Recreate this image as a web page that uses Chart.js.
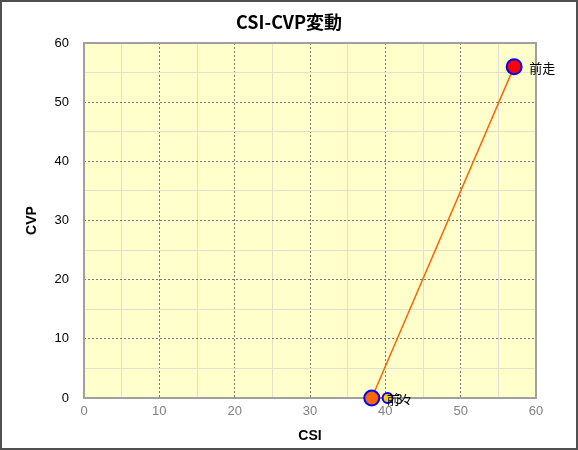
<!DOCTYPE html>
<html>
<head>
<meta charset="utf-8">
<script src="https://cdn.jsdelivr.net/npm/chart.js@4"></script>
<style>
  html, body { margin: 0; padding: 0; background: #fff; }
  #wrap { width: 578px; height: 450px; }
</style>
</head>
<body>
<div id="wrap"><canvas id="cvpChart" width="578" height="450"></canvas></div>
<script>
// data
const raceLabels = ['前走', '前々', '3'];
const csiValues = [57.1, 38.2, 40.3];
const cvpValues = [56, 0, 0];
const pointFills = ['#FF0000', '#FF6600', '#FFCC00'];
const pointSizes = [7.5, 7.5, 5];
const xTicks = [0, 10, 20, 30, 40, 50, 60];
const yTicks = [0, 10, 20, 30, 40, 50, 60];

const FONT = '"Liberation Sans", "Noto Sans CJK JP", sans-serif';

// plot background, frame, title, point labels, outer border
const decorPlugin = {
    id: 'decor',
    beforeDraw(chart) {
        const { ctx, chartArea: a } = chart;
        ctx.save();
        ctx.fillStyle = '#FFFFCC';
        ctx.fillRect(a.left, a.top, a.right - a.left, a.bottom - a.top);
        ctx.restore();
    },
    beforeDatasetsDraw(chart) {
        const { ctx, chartArea: a } = chart;
        ctx.save();
        ctx.strokeStyle = '#A0A0A0';
        ctx.lineWidth = 2;
        ctx.strokeRect(a.left, a.top, a.right - a.left, a.bottom - a.top);
        ctx.restore();
    },
    afterDatasetsDraw(chart) {
        const { ctx } = chart;
        const xs = chart.scales.x, ys = chart.scales.y;
        ctx.save();
        ctx.font = '13px "Noto Sans CJK JP", sans-serif';
        ctx.fillStyle = '#000';
        ctx.textBaseline = 'middle';
        ctx.textAlign = 'left';
        raceLabels.forEach((lbl, i) => {
            const px = xs.getPixelForValue(csiValues[i]);
            const py = ys.getPixelForValue(cvpValues[i]);
            ctx.fillText(lbl, px + (i === 2 ? 8 : 15), py + 1);
        });
        ctx.restore();
    },
    afterDraw(chart) {
        const { ctx, width, height } = chart;
        ctx.save();
        ctx.strokeStyle = '#505050';
        ctx.lineWidth = 2;
        ctx.strokeRect(1, 1, width - 2, height - 2);
        ctx.fillStyle = '#000';
        ctx.font = 'bold 18px "Noto Sans CJK JP", sans-serif';
        ctx.textAlign = 'center';
        ctx.textBaseline = 'middle';
        ctx.fillText('CSI-CVP変動', width / 2, 22);
        ctx.restore();
    }
};

function gridColor(c) {
    return c.tick && c.tick.value % 10 === 0 ? '#777777' : '#E0E0CC';
}
function gridDash(c) {
    return c.tick && c.tick.value % 10 === 0 ? [2, 2] : [];
}

function createCvpChart() {
    const ctx = document.getElementById('cvpChart');
    if (!ctx) return;

    new Chart(ctx, {
        type: 'scatter',
        data: {
            datasets: [{
                label: 'CSI-CVP',
                data: csiValues.map((v, i) => ({ x: v, y: cvpValues[i] })),
                showLine: true,
                clip: false,
                borderColor: '#FF6600',
                borderWidth: 1.5,
                pointBackgroundColor: pointFills,
                pointBorderColor: '#0000FF',
                pointBorderWidth: 2,
                pointRadius: pointSizes,
                pointHoverRadius: pointSizes
            }]
        },
        options: {
            responsive: false,
            animation: false,
            layout: { padding: { left: 0, top: 43, right: 42, bottom: 0 } },
            plugins: {
                legend: { display: false },
                title: { display: false },
                tooltip: { enabled: false }
            },
            scales: {
                x: {
                    type: 'linear',
                    min: xTicks[0],
                    max: xTicks[xTicks.length - 1],
                    afterFit: s => { s.height = 52; },
                    ticks: {
                        stepSize: 5,
                        color: '#808080',
                        padding: 6,
                        font: { family: FONT, size: 13 },
                        callback: v => xTicks.includes(v) ? v : ''
                    },
                    grid: { color: gridColor, drawTicks: false, lineWidth: 1 },
                    border: { display: false, dash: gridDash },
                    title: {
                        display: true,
                        text: 'CSI',
                        color: '#000',
                        font: { family: FONT, size: 14, weight: 'bold' },
                        padding: { top: 0, bottom: 5 }
                    }
                },
                y: {
                    type: 'linear',
                    min: yTicks[0],
                    max: yTicks[yTicks.length - 1],
                    afterFit: s => { s.width = 84; },
                    ticks: {
                        stepSize: 5,
                        color: '#000',
                        padding: 15,
                        font: { family: FONT, size: 13 },
                        callback: v => yTicks.includes(v) ? v : ''
                    },
                    grid: { color: gridColor, drawTicks: false, lineWidth: 1 },
                    border: { display: false, dash: gridDash },
                    title: {
                        display: true,
                        text: 'CVP',
                        color: '#000',
                        font: { family: FONT, size: 14, weight: 'bold' },
                        padding: { top: 24, bottom: 0 }
                    }
                }
            }
        },
        plugins: [decorPlugin]
    });
}

document.addEventListener('DOMContentLoaded', () => {
    createCvpChart();
});
</script>
</body>
</html>
